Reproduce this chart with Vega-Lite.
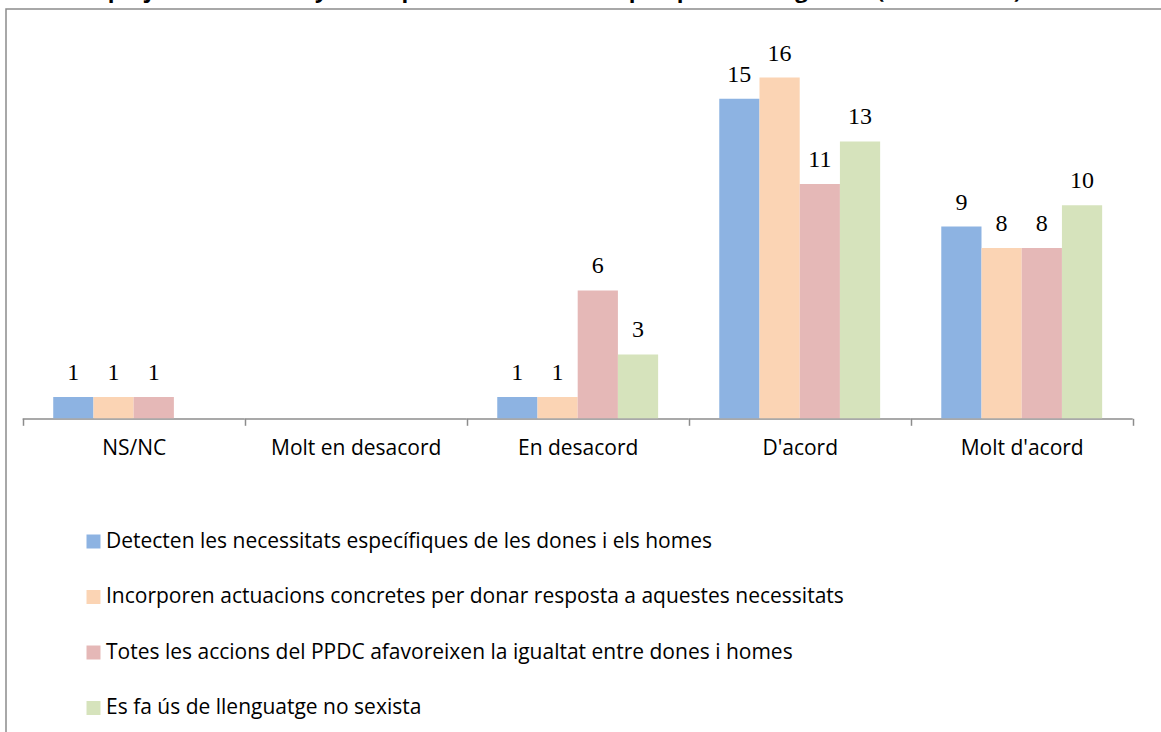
{
  "$schema": "https://vega.github.io/schema/vega-lite/v6.json",
  "autosize": {"type": "none"},
  "padding": {"left": 6, "top": 9, "right": 0, "bottom": 0},
  "width": 1170,
  "height": 740,
  "background": "white",
  "title": {
    "text": "Els projectes es dissenyen i implementen des de la perspectiva de gènere (continuació)",
    "anchor": "start",
    "frame": "group",
    "font": "Open Sans",
    "fontSize": 22,
    "fontWeight": "bold",
    "color": "black",
    "baseline": "alphabetic",
    "offset": 0,
    "dx": 66,
    "dy": 10.5
  },
  "config": {
    "view": {"stroke": "#8c8c8c", "strokeWidth": 1.5},
    "font": "Open Sans"
  },
  "data": {
    "values": [
      {"cat": "NS/NC", "serie": "Detecten les necessitats específiques de les dones i els homes", "value": 1},
      {"cat": "NS/NC", "serie": "Incorporen actuacions concretes per donar resposta a aquestes necessitats", "value": 1},
      {"cat": "NS/NC", "serie": "Totes les accions del PPDC afavoreixen la igualtat entre dones i homes", "value": 1},
      {"cat": "En desacord", "serie": "Detecten les necessitats específiques de les dones i els homes", "value": 1},
      {"cat": "En desacord", "serie": "Incorporen actuacions concretes per donar resposta a aquestes necessitats", "value": 1},
      {"cat": "En desacord", "serie": "Totes les accions del PPDC afavoreixen la igualtat entre dones i homes", "value": 6},
      {"cat": "En desacord", "serie": "Es fa ús de llenguatge no sexista", "value": 3},
      {"cat": "D'acord", "serie": "Detecten les necessitats específiques de les dones i els homes", "value": 15},
      {"cat": "D'acord", "serie": "Incorporen actuacions concretes per donar resposta a aquestes necessitats", "value": 16},
      {"cat": "D'acord", "serie": "Totes les accions del PPDC afavoreixen la igualtat entre dones i homes", "value": 11},
      {"cat": "D'acord", "serie": "Es fa ús de llenguatge no sexista", "value": 13},
      {"cat": "Molt d'acord", "serie": "Detecten les necessitats específiques de les dones i els homes", "value": 9},
      {"cat": "Molt d'acord", "serie": "Incorporen actuacions concretes per donar resposta a aquestes necessitats", "value": 8},
      {"cat": "Molt d'acord", "serie": "Totes les accions del PPDC afavoreixen la igualtat entre dones i homes", "value": 8},
      {"cat": "Molt d'acord", "serie": "Es fa ús de llenguatge no sexista", "value": 10}
    ]
  },
  "encoding": {
    "x": {
      "field": "cat",
      "type": "nominal",
      "sort": null,
      "scale": {
        "domain": ["NS/NC", "Molt en desacord", "En desacord", "D'acord", "Molt d'acord"],
        "paddingInner": 0,
        "paddingOuter": 0.135,
        "align": 0.278
      },
      "axis": {
        "title": null,
        "domain": false,
        "ticks": true,
        "tickBand": "extent",
        "tickSize": 7,
        "tickColor": "#8c8c8c",
        "tickWidth": 1.5,
        "grid": false,
        "labelAngle": 0,
        "labelFont": "Open Sans",
        "labelFontSize": 21,
        "labelColor": "black",
        "labelPadding": 12,
        "offset": -330.7
      }
    }
  },
  "layer": [
    {
      "data": {"values": [{"cat": "NS/NC"}, {"cat": "Molt en desacord"}, {"cat": "En desacord"}, {"cat": "D'acord"}, {"cat": "Molt d'acord"}]},
      "mark": {"type": "bar", "color": "#8c8c8c"},
      "encoding": {
        "y": {"datum": 0, "type": "quantitative", "scale": {"domain": [-15.526, 19.216], "nice": false, "zero": false}, "axis": null},
        "y2": {"datum": -0.07}
      }
    },
    {
      "mark": {"type": "bar"},
      "encoding": {
        "xOffset": {
          "field": "serie",
          "type": "nominal",
          "sort": null,
          "scale": {
            "domain": [
              "Detecten les necessitats específiques de les dones i els homes",
              "Incorporen actuacions concretes per donar resposta a aquestes necessitats",
              "Totes les accions del PPDC afavoreixen la igualtat entre dones i homes",
              "Es fa ús de llenguatge no sexista"
            ],
            "paddingInner": 0,
            "paddingOuter": 0.76
          }
        },
        "y": {"field": "value", "type": "quantitative", "axis": null},
        "y2": {"datum": 0},
        "color": {
          "field": "serie",
          "type": "nominal",
          "sort": null,
          "scale": {
            "domain": [
              "Detecten les necessitats específiques de les dones i els homes",
              "Incorporen actuacions concretes per donar resposta a aquestes necessitats",
              "Totes les accions del PPDC afavoreixen la igualtat entre dones i homes",
              "Es fa ús de llenguatge no sexista"
            ],
            "range": ["#8DB3E2", "#FBD4B4", "#E5B8B7", "#D6E3BC"]
          },
          "legend": {
            "title": null,
            "orient": "none",
            "legendX": 77,
            "legendY": 522,
            "direction": "vertical",
            "padding": 0,
            "symbolType": "square",
            "symbolSize": 196,
            "symbolStrokeWidth": 0,
            "labelFont": "Open Sans",
            "labelFontSize": 21,
            "labelColor": "black",
            "labelOffset": 2,
            "labelLimit": 1000,
            "rowPadding": 33.5
          }
        }
      }
    },
    {
      "mark": {"type": "text", "font": "Liberation Serif", "fontSize": 24, "baseline": "alphabetic", "dy": -17, "color": "black"},
      "encoding": {
        "xOffset": {"field": "serie", "type": "nominal", "sort": null},
        "y": {"field": "value", "type": "quantitative"},
        "text": {"field": "value", "type": "quantitative"}
      }
    }
  ]
}
